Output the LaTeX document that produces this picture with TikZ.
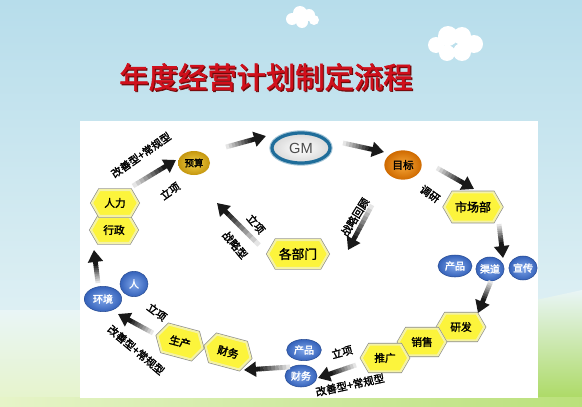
\documentclass[tikz,border=0pt]{standalone}
\usepackage{fontspec}
\setmainfont{Noto Sans CJK SC}[AutoFakeBold=2]
\newfontfamily\latinf{Liberation Sans}
\usetikzlibrary{shapes.symbols,shapes.geometric,calc,arrows.meta}
\definecolor{skytop}{HTML}{B7DDEB}
\definecolor{skybot}{HTML}{E9F5F6}
\definecolor{grassA}{HTML}{E6F4C8}
\definecolor{grassB}{HTML}{A8D85A}
\definecolor{titlered}{HTML}{D0101C}
\definecolor{titledark}{HTML}{6E0A0A}
\definecolor{hexfill}{HTML}{FCF43C}
\definecolor{hexrim}{HTML}{F4F2A6}
\definecolor{blueA}{HTML}{7FA6EA}
\definecolor{blueB}{HTML}{3562BA}
\definecolor{gmring}{HTML}{1F6D9A}
\definecolor{goldA}{HTML}{F4D24A}
\definecolor{goldB}{HTML}{C4960E}
\definecolor{orangeA}{HTML}{F7A83A}
\definecolor{orangeB}{HTML}{CF6A00}
\tikzset{
  hexa/.style n args={2}{shape=signal, signal to=east and west, signal pointer angle=120,
    minimum width=#1, minimum height=#2, inner sep=0pt, fill=hexfill, draw=hexrim, line width=1.6pt,
    preaction={draw=black!45, line width=2.6pt},
    font=\fontsize{8}{8}\selectfont\bfseries},
  bball/.style n args={2}{ellipse, minimum width=#1, minimum height=#2, inner sep=0pt,
    inner color=blueA, outer color=blueB, draw=blueB!80!black, line width=0.4pt,
    text=white, font=\fontsize{7.5}{7.5}\selectfont\bfseries},
  lab/.style={inner sep=0pt, font=\fontsize{8}{8}\selectfont\bfseries}
}
\newcommand\garrow[2]{%
  \coordinate (gh) at ($(#2)!12pt!(#1)$);
  \foreach \i [evaluate=\i as \ta using \i/8, evaluate=\i as \tb using (\i+1.1)/8, evaluate=\i as \k using int(10+\i*10)] in {0,...,7}{%
    \draw[line width=3.6pt, draw=black!\k] ($(#1)!\ta!(gh)$) -- ($(#1)!\tb!(gh)$);}%
  \draw[line width=3.6pt, draw=black!90, -{Triangle[length=9pt,width=11pt]}] (gh) -- (#2);}
\begin{document}
\begin{tikzpicture}[x=0.75pt,y=-0.75pt]
\useasboundingbox (0,0) rectangle (582,407);
% background
\shade[top color=skytop, bottom color=skybot] (0,0) rectangle (582,407);
\shade[top color=skybot, bottom color=grassA] (0,310) rectangle (82,407);
\shade[top color=skybot, bottom color=grassB] (536,300) -- (582,290) -- (582,407) -- (536,407) -- cycle;
\shade[left color=grassA, right color=grassB!70!grassA] (0,397) rectangle (582,407);
% panel
\fill[white] (80,121) rectangle (538,398);
% clouds
\fill[white] (292,19) circle (6) (300,13) circle (7) (309,15) circle (6) (314,20) circle (5) (302,22) circle (6);
\fill[white] (436,45) circle (8) (448,36) circle (10) (462,36) circle (9) (474,44) circle (9) (462,52) circle (9) (447,53) circle (8);
% title
\node[text=titledark] at (267.2,78.2) {\fontsize{22}{22}\selectfont\bfseries 年度经营计划制定流程};
\node[text=titlered] (title) at (266,77) {\fontsize{22}{22}\selectfont\bfseries 年度经营计划制定流程};
% nodes
\node[ellipse, minimum width=43.5pt, minimum height=22.5pt, inner sep=0pt, inner color=white, outer color=black!15,
  draw=gmring, line width=2.4pt, preaction={draw=gmring!40, line width=4pt}, text=black!70,
  font=\latinf\fontsize{11}{11}\selectfont] (gm) at (301,148) {GM};
\node[ellipse, minimum width=24pt, minimum height=18pt, inner sep=0pt, inner color=goldA, outer color=goldB,
  font=\fontsize{7}{7}\selectfont\bfseries] (ys) at (194,163) {预算};
\node[ellipse, minimum width=28pt, minimum height=22pt, inner sep=0pt, inner color=orangeA, outer color=orangeB,
  font=\fontsize{8}{8}\selectfont\bfseries] (mb) at (403,165) {目标};
\node[hexa={43pt}{22pt}, font=\fontsize{9}{9}\selectfont\bfseries] (scb) at (473,207) {市场部};
\node[bball={25.5pt}{16.5pt}] (cp1) at (455,266) {产品};
\node[bball={21pt}{18pt}] (qd) at (490,269) {渠道};
\node[bball={21pt}{18pt}] (xc) at (523,268) {宣传};
\node[hexa={35pt}{20pt}] (yf) at (461,327) {研发};
\node[hexa={35pt}{20pt}] (xs) at (422,342) {销售};
\node[hexa={35pt}{20pt}] (tg) at (385,358) {推广};
\node[bball={26pt}{16pt}] (cp2) at (304,350) {产品};
\node[bball={24pt}{16.5pt}] (cw1) at (301,376) {财务};
\node[hexa={35pt}{21pt}, rotate=-15] (cw2) at (228,352) {财务};
\node[hexa={35pt}{21pt}, rotate=-15] (sc) at (180,342) {生产};
\node[bball={28pt}{19pt}] (hj) at (103,299) {环境};
\node[bball={21pt}{19pt}] (ren) at (134,284) {人};
\node[hexa={34.5pt}{19.5pt}] (xz) at (114,230) {行政};
\node[hexa={34.5pt}{19.5pt}] (rl) at (115,203) {人力};
\node[hexa={45pt}{21pt}, font=\fontsize{9.5}{9.5}\selectfont\bfseries] (gbm) at (298,254) {各部门};
% arrow end points
\coordinate (p1s) at (226,147); \coordinate (p1e) at (266,136);
\coordinate (p2s) at (343,143); \coordinate (p2e) at (384,152);
\coordinate (p3s) at (437,168); \coordinate (p3e) at (474,189);
\coordinate (p4s) at (499,224); \coordinate (p4e) at (503,258);
\coordinate (p5s) at (491,281); \coordinate (p5e) at (478,313);
\coordinate (p6s) at (356,365); \coordinate (p6e) at (318,378);
\coordinate (p7s) at (290,367); \coordinate (p7e) at (244,370);
\coordinate (p8s) at (153,333); \coordinate (p8e) at (118,314);
\coordinate (p9s) at (98,283);  \coordinate (p9e) at (94,250);
\coordinate (p10s) at (133,186); \coordinate (p10e) at (176,160);
\coordinate (p11s) at (259,245); \coordinate (p11e) at (217,203);
\coordinate (p12s) at (372,205); \coordinate (p12e) at (348,250);
\garrow{p1s}{p1e}
\garrow{p2s}{p2e}
\garrow{p3s}{p3e}
\garrow{p4s}{p4e}
\garrow{p5s}{p5e}
\garrow{p6s}{p6e}
\garrow{p7s}{p7e}
\garrow{p8s}{p8e}
\garrow{p9s}{p9e}
\garrow{p10s}{p10e}
\garrow{p11s}{p11e}
\garrow{p12s}{p12e}
% labels
\node[lab, rotate=35] (l1) at (141,155) {改善型+常规型};
\node[lab, rotate=35] (l2) at (170,191) {立项};
\node[lab, rotate=-50] (l3) at (256,224) {立项};
\node[lab, rotate=-50] (l4) at (235,245) {战略型};
\node[lab, rotate=58] (l5) at (355,217) {战略回顾};
\node[lab, rotate=-35] (l6) at (430,194) {调研};
\node[lab, rotate=15] (l7) at (342,352) {立项};
\node[lab, rotate=12] (l8) at (350,385) {改善型+常规型};
\node[lab, rotate=-37] (l9) at (157,312) {立项};
\node[lab, rotate=-40] (l10) at (136,350) {改善型+常规型};
\end{tikzpicture}
\end{document}
